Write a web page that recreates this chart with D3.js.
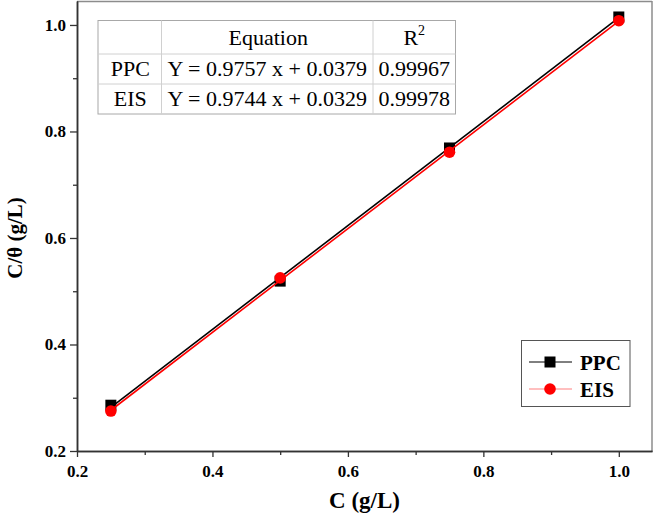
<!DOCTYPE html>
<html><head><meta charset="utf-8">
<script src="https://cdn.jsdelivr.net/npm/d3@7"></script>
<style>body{margin:0;background:#fff}svg{display:block}</style>
</head><body>
<script>
const xValues = [0.25, 0.5, 0.75, 1.0];
const ppcValues = [0.286, 0.519, 0.769, 1.015];
const eisValues = [0.275, 0.525, 0.761, 1.008];
const seriesNames = ["PPC", "EIS"];
const fitSlopes = [0.9757, 0.9744];
const fitIntercepts = [0.0379, 0.0329];
const xTicks = [0.2, 0.4, 0.6, 0.8, 1.0];
const yTicks = [0.2, 0.4, 0.6, 0.8, 1.0];
const tableHeader = ["", "Equation", "R"];
const tableRows = [["PPC", "Y = 0.9757 x + 0.0379", "0.99967"],
                   ["EIS", "Y = 0.9744 x + 0.0329", "0.99978"]];

const W = 669, H = 517;
const svg = d3.select("body").append("svg").attr("width", W).attr("height", H);
const L = 77, R = 652, T = 1, B = 451;
const x = d3.scaleLinear().domain([0.2, 1.049]).range([L, R]);
const y = d3.scaleLinear().domain([0.2, 1.045]).range([B, T]);
const font = "'Liberation Serif','Times New Roman',serif";

// frame (top & right gray)
svg.append("line").attr("x1", L).attr("x2", R).attr("y1", T+0.5).attr("y2", T+0.5).attr("stroke", "#8c8c8c").attr("stroke-width", 1.5);
svg.append("line").attr("x1", R).attr("x2", R).attr("y1", T).attr("y2", B).attr("stroke", "#8c8c8c").attr("stroke-width", 1.5);

// axes
const xAxis = svg.append("g").attr("transform", `translate(0,${B})`)
  .call(d3.axisBottom(x).tickValues(xTicks).tickFormat(d3.format(".1f")).tickSize(6).tickSizeOuter(0));
const xMinor = svg.append("g").attr("transform", `translate(0,${B})`)
  .call(d3.axisBottom(x).tickValues([0.3,0.5,0.7,0.9]).tickFormat("").tickSize(4).tickSizeOuter(0));
const yAxis = svg.append("g").attr("transform", `translate(${L},0)`)
  .call(d3.axisLeft(y).tickValues(yTicks).tickFormat(d3.format(".1f")).tickSize(7).tickPadding(4).tickSizeOuter(0));
const yMinor = svg.append("g").attr("transform", `translate(${L},0)`)
  .call(d3.axisLeft(y).tickValues([0.3,0.5,0.7,0.9]).tickFormat("").tickSize(4).tickSizeOuter(0));
[xAxis, xMinor, yAxis, yMinor].forEach(g => {
  g.select(".domain").attr("stroke", "#333").attr("stroke-width", 1.5);
  g.selectAll(".tick line").attr("stroke", "#333").attr("stroke-width", 1.3);
  g.selectAll("text").attr("font-family", font).attr("font-weight", "bold").attr("font-size", 17).attr("fill", "#000");
});
xAxis.selectAll("text").attr("y", 0).attr("dy", 0).attr("transform", "translate(0,26)");

// axis titles
svg.append("text").attr("x", (L+R)/2).attr("y", 508).attr("text-anchor", "middle")
  .attr("font-family", font).attr("font-weight", "bold").attr("font-size", 23).text("C (g/L)");
svg.append("text").attr("transform", `translate(22,238) rotate(-90)`).attr("text-anchor", "middle")
  .attr("font-family", font).attr("font-weight", "bold").attr("font-size", 21).text("C/θ (g/L)");

// series: linear fit lines + data markers
const line = d3.line().x(d => x(d[0])).y(d => y(d[1]));
const xr = d3.extent(xValues);
const fits = fitSlopes.map((m, i) => xr.map(v => [v, m * v + fitIntercepts[i]]));
const ppc = xValues.map((v, i) => [v, ppcValues[i]]);
const eis = xValues.map((v, i) => [v, eisValues[i]]);
svg.append("path").datum(fits[0]).attr("d", line).attr("fill", "none").attr("stroke", "#000").attr("stroke-width", 1.6);
svg.selectAll(".sq").data(ppc).enter().append("rect")
  .attr("x", d => x(d[0]) - 5.5).attr("y", d => y(d[1]) - 5.5).attr("width", 11).attr("height", 11).attr("fill", "#000");
svg.append("path").datum(fits[1]).attr("d", line).attr("fill", "none").attr("stroke", "#ff0000").attr("stroke-width", 1.6);
svg.selectAll(".ci").data(eis).enter().append("circle")
  .attr("cx", d => x(d[0])).attr("cy", d => y(d[1])).attr("r", 5.8).attr("fill", "#ff0000");

// table
const colX = [98, 161.5, 373, 455.5];
const rowY = [20.5, 54, 84, 114];
const tg = svg.append("g");
tg.append("rect").attr("x", colX[0]).attr("y", rowY[0]).attr("width", colX[3]-colX[0]).attr("height", rowY[3]-rowY[0])
  .attr("fill", "#fff").attr("stroke", "#a8a8a8").attr("stroke-width", 1);
[1,2].forEach(i => tg.append("line").attr("x1", colX[i]).attr("x2", colX[i]).attr("y1", rowY[0]).attr("y2", rowY[3]).attr("stroke", "#d0d0d0"));
[1,2].forEach(i => tg.append("line").attr("x1", colX[0]).attr("x2", colX[3]).attr("y1", rowY[i]).attr("y2", rowY[i]).attr("stroke", "#d0d0d0"));
const fs = 22;
tg.append("text").attr("x", (colX[1]+colX[2])/2 + 1).attr("y", 45).attr("text-anchor", "middle")
  .attr("font-family", font).attr("font-size", fs).text(tableHeader[1]);
const r2 = tg.append("text").attr("x", (colX[2]+colX[3])/2).attr("y", 45).attr("text-anchor", "middle")
  .attr("font-family", font).attr("font-size", fs).text(tableHeader[2]);
r2.append("tspan").attr("font-size", 14).attr("dy", -10).text("2");
tableRows.forEach((row, i) => {
  const yy = [76, 105.5][i];
  row.forEach((cell, j) => {
    tg.append("text").attr("x", (colX[j]+colX[j+1])/2 + (j === 0 ? 0.5 : 0)).attr("y", yy).attr("text-anchor", "middle")
      .attr("font-family", font).attr("font-size", fs).text(cell);
  });
});

// legend
const lg = svg.append("g");
lg.append("rect").attr("x", 521.5).attr("y", 340.5).attr("width", 108.5).attr("height", 66)
  .attr("fill", "#fff").attr("stroke", "#555").attr("stroke-width", 1);
const legY = [362, 389];
lg.append("line").attr("x1", 529).attr("x2", 572).attr("y1", legY[0]).attr("y2", legY[0]).attr("stroke", "#000").attr("stroke-width", 1);
lg.append("rect").attr("x", 544.5).attr("y", legY[0]-5.5).attr("width", 11).attr("height", 11).attr("fill", "#000");
lg.append("line").attr("x1", 529).attr("x2", 572).attr("y1", legY[1]).attr("y2", legY[1]).attr("stroke", "#ff8080").attr("stroke-width", 1.2);
lg.append("circle").attr("cx", 550).attr("cy", legY[1]).attr("r", 5.8).attr("fill", "#ff0000");
seriesNames.forEach((n, i) => lg.append("text").attr("x", 580).attr("y", legY[i] + 7.5)
  .attr("font-family", font).attr("font-weight", "bold").attr("font-size", 21).text(n));
</script>
</body></html>
